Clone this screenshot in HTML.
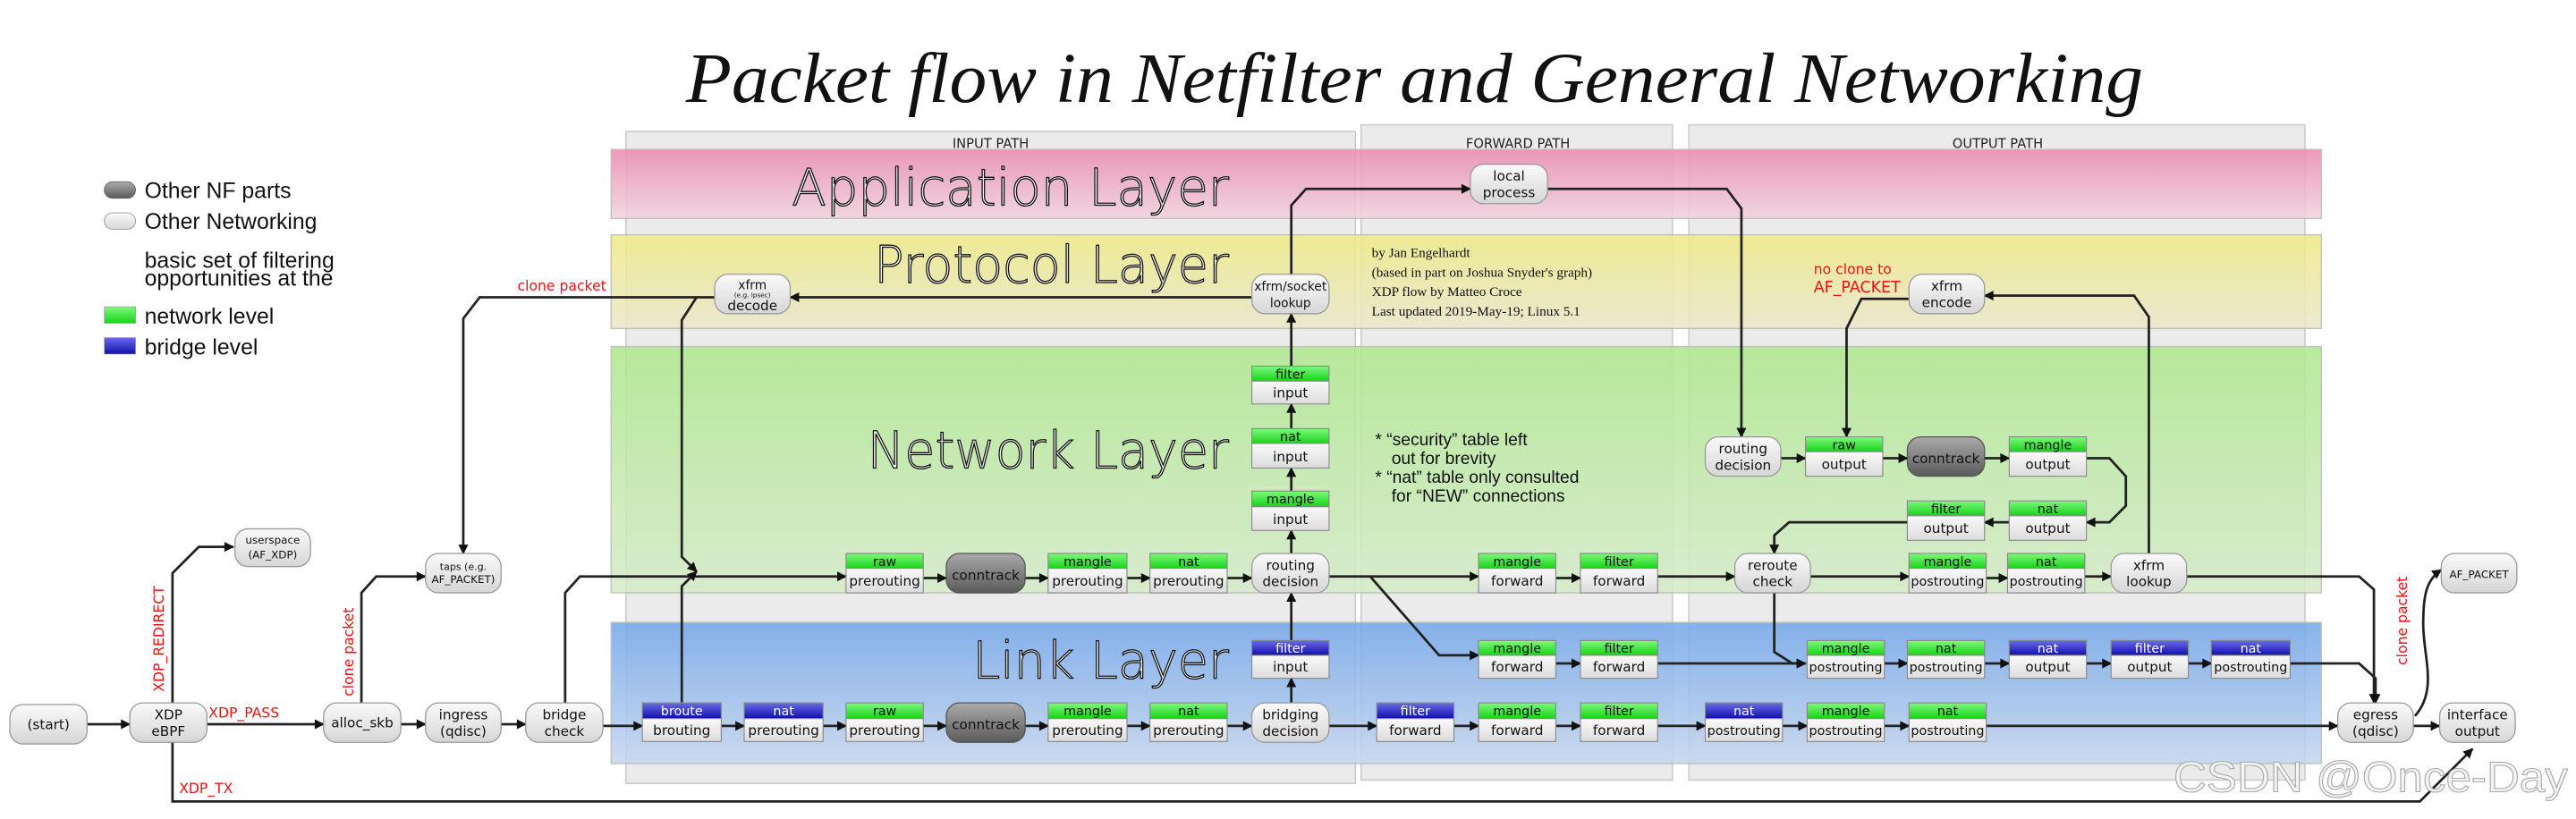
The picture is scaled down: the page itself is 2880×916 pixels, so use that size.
<!DOCTYPE html>
<html><head><meta charset="utf-8"><style>html,body{margin:0;padding:0;background:#fff}svg{display:block}</style></head><body>
<svg xmlns="http://www.w3.org/2000/svg" width="2880" height="916" viewBox="0 0 1568 498.7" preserveAspectRatio="none" font-family="DejaVu Sans, Liberation Sans, sans-serif">
<defs>
<marker id="a" viewBox="0 0 10 10" refX="9" refY="5" markerWidth="7" markerHeight="6" markerUnits="userSpaceOnUse" orient="auto"><path d="M0,0 L10,5 L0,10 Z" fill="#111"/></marker>
<linearGradient id="gApp" x1="0" y1="0" x2="0" y2="1"><stop offset="0" stop-color="#e98db0"/><stop offset="1" stop-color="#f3d3df"/></linearGradient>
<linearGradient id="gPro" x1="0" y1="0" x2="0" y2="1"><stop offset="0" stop-color="#efea88"/><stop offset="1" stop-color="#ebe8cc"/></linearGradient>
<linearGradient id="gNet" x1="0" y1="0" x2="0" y2="1"><stop offset="0" stop-color="#b0e890"/><stop offset="1" stop-color="#d6ebca"/></linearGradient>
<linearGradient id="gLnk" x1="0" y1="0" x2="0" y2="1"><stop offset="0" stop-color="#76a8ea"/><stop offset="1" stop-color="#c6d7ef"/></linearGradient>
<linearGradient id="gN" x1="0" y1="0" x2="0" y2="1"><stop offset="0" stop-color="#fafafa"/><stop offset="1" stop-color="#d6d6d6"/></linearGradient>
<linearGradient id="gD" x1="0" y1="0" x2="0" y2="1"><stop offset="0" stop-color="#aaa"/><stop offset="1" stop-color="#5a5a5a"/></linearGradient>
<linearGradient id="gG" x1="0" y1="0" x2="0" y2="1"><stop offset="0" stop-color="#7ef87e"/><stop offset="1" stop-color="#18d418"/></linearGradient>
<linearGradient id="gB" x1="0" y1="0" x2="0" y2="1"><stop offset="0" stop-color="#6a6af0"/><stop offset="1" stop-color="#1010a8"/></linearGradient>
<linearGradient id="gT" x1="0" y1="0" x2="0" y2="1"><stop offset="0" stop-color="#fafafa"/><stop offset="1" stop-color="#dcdcdc"/></linearGradient>
</defs>

<text x="861" y="62" text-anchor="middle" font-family="Liberation Serif, serif" font-style="italic" font-size="43" textLength="887" lengthAdjust="spacingAndGlyphs" fill="#111">Packet flow in Netfilter and General Networking</text>

<!-- columns -->
<g fill="#ebebeb" stroke="#c8c8c8" stroke-width="0.8">
<rect x="381" y="80" width="444" height="397"/>
<rect x="828.5" y="76" width="189.5" height="399"/>
<rect x="1028" y="76" width="375" height="399"/>
</g>
<g font-size="8" fill="#222" text-anchor="middle">
<text x="603" y="90">INPUT PATH</text>
<text x="924" y="90">FORWARD PATH</text>
<text x="1216" y="90">OUTPUT PATH</text>
</g>
<!-- bands -->
<g stroke="#bbb" stroke-width="0.8" opacity="0.88">
<rect x="372" y="91" width="1041" height="42" fill="url(#gApp)"/>
<rect x="372" y="143" width="1041" height="57" fill="url(#gPro)"/>
<rect x="372" y="211" width="1041" height="150" fill="url(#gNet)"/>
<rect x="372" y="379" width="1041" height="86" fill="url(#gLnk)"/>
</g>
<g font-size="31" fill="#f2f2f2" stroke="#111" stroke-width="0.7" font-weight="300" text-anchor="end">
<text x="748" y="125" textLength="266" lengthAdjust="spacingAndGlyphs">Application Layer</text>
<text x="748" y="172" textLength="216" lengthAdjust="spacingAndGlyphs">Protocol Layer</text>
<text x="748" y="285" textLength="220" lengthAdjust="spacingAndGlyphs">Network Layer</text>
<text x="748" y="413" textLength="156" lengthAdjust="spacingAndGlyphs">Link Layer</text>
</g>

<!-- legend -->
<rect x="63.5" y="110.7" width="19" height="10" rx="5" fill="url(#gD)" stroke="#666" stroke-width="0.5"/>
<rect x="63.5" y="129.6" width="19" height="10" rx="5" fill="url(#gN)" stroke="#999" stroke-width="0.5"/>
<rect x="63.5" y="186.8" width="19" height="10" fill="url(#gG)" stroke="#999" stroke-width="0.4"/>
<rect x="63.5" y="205.6" width="19" height="10" fill="url(#gB)" stroke="#999" stroke-width="0.4"/>
<g font-family="Liberation Sans, sans-serif" font-size="13.5" fill="#111">
<text x="88" y="120.5">Other NF parts</text>
<text x="88" y="139.5">Other Networking</text>
<text x="88" y="163">basic set of filtering</text>
<text x="88" y="174">opportunities at the</text>
<text x="88" y="197">network level</text>
<text x="88" y="216">bridge level</text>
</g>

<!-- credits -->
<g font-family="Liberation Serif, serif" font-size="8.3" fill="#111">
<text x="835" y="156.5">by Jan Engelhardt</text>
<text x="835" y="168.5">(based in part on Joshua Snyder's graph)</text>
<text x="835" y="180.3">XDP flow by Matteo Croce</text>
<text x="835" y="192.2">Last updated 2019-May-19; Linux 5.1</text>
</g>
<g font-size="10.5" fill="#111" font-family="Liberation Sans, sans-serif">
<text x="837" y="271">* “security” table left</text>
<text x="847" y="282.5">out for brevity</text>
<text x="837" y="294">* “nat” table only consulted</text>
<text x="847" y="305.5">for “NEW” connections</text>
</g>

<!-- red labels -->
<g fill="#ee1111" font-size="8.5">
<text x="315" y="177">clone packet</text>
<text x="1104" y="167">no clone to</text>
<text x="1104" y="178" font-size="9.5">AF_PACKET</text>
<text x="127" y="437">XDP_PASS</text>
<text x="109" y="483">XDP_TX</text>
<text transform="translate(99.5,389) rotate(-90)" text-anchor="middle">XDP_REDIRECT</text>
<text transform="translate(215,397) rotate(-90)" text-anchor="middle">clone packet</text>
<text transform="translate(1465,378) rotate(-90)" text-anchor="middle">clone packet</text>
</g>

<!-- connectors -->
<g fill="none" stroke="#222" stroke-width="1.5" marker-end="url(#a)">
<path d="M53,441 H79"/><path d="M126,441 H197"/>
<path d="M105,428 V349 L121,333 H142"/>
<path d="M105,452 V488 H1473 L1505,456"/>
<path d="M220,428 V361 L229,351 H259"/>
<path d="M244,441 H259"/><path d="M305,441 H320"/><path d="M367,442 H391"/>
<path d="M344,428 V361 L353,351 H515"/>
<path d="M415,428 V357 L424,348"/>
<path d="M424,181 L415,195 V339 L424,348"/>
<path d="M435,181 H292 L282,194 V337"/>
<path d="M762,181 H481"/>
<path d="M439,442 H453"/><path d="M501,442 H515"/><path d="M562,442 H576"/><path d="M624,442 H638"/><path d="M686,442 H700"/><path d="M747,442 H762"/>
<path d="M809,442 H838"/><path d="M885,442 H900"/><path d="M947,442 H962"/><path d="M1009,442 H1038"/><path d="M1085,442 H1100"/><path d="M1147,442 H1162"/><path d="M1209,442 H1423"/><path d="M1469,442 H1485"/>
<path d="M562,352 H576"/><path d="M624,352 H638"/><path d="M686,352 H700"/><path d="M747,352 H762"/>
<path d="M809,351 H900"/><path d="M947,352 H962"/><path d="M1009,351 H1056"/><path d="M1102,351 H1162"/><path d="M1209,352 H1222"/><path d="M1269,351 H1285"/>
<path d="M834,351 L876,399 H900"/>
<path d="M947,404 H962"/><path d="M1009,404 H1099"/><path d="M1147,404 H1161"/><path d="M1208,404 H1223"/><path d="M1270,404 H1285"/><path d="M1332,404 H1346"/>
<path d="M1080,361 V397 L1091,404 H1099"/>
<path d="M1394,404 H1436 L1446,413 V428"/>
<path d="M1331,351 H1436 L1445,359 V428"/>
<path d="M786,428 V413"/><path d="M786,390 V361"/><path d="M786,337 V323"/><path d="M786,299 V285"/><path d="M786,261 V246"/><path d="M786,223 V191"/>
<path d="M786,167 V125 L795,115 H895"/>
<path d="M942,115 H1051 L1060,127 V266"/>
<path d="M1084,279 H1099"/><path d="M1146,279 H1161"/><path d="M1208,279 H1223"/>
<path d="M1270,279 H1284 L1294,290 V308 L1284,318 H1270"/>
<path d="M1223,318 H1208"/>
<path d="M1161,318 H1089 L1080,326 V337"/>
<path d="M1308,337 V193 L1299,180 H1208"/>
<path d="M1162,182 H1133 L1124,200 V266"/>
<path d="M1470,436 C1484,420 1475,400 1475,380 C1475,362 1477,353 1486,347"/>
</g>

<!-- nodes -->
<g stroke="#999" stroke-width="0.7" fill="url(#gN)">
<rect x="6" y="429" width="47" height="24" rx="8"/>
<rect x="79" y="428" width="47" height="24" rx="8"/>
<rect x="197" y="428" width="47" height="24" rx="8"/>
<rect x="259" y="428" width="46" height="24" rx="8"/>
<rect x="320" y="428" width="47" height="24" rx="8"/>
<rect x="762" y="428" width="47" height="24" rx="8"/>
<rect x="1423" y="428" width="46" height="24" rx="8"/>
<rect x="1485" y="428" width="46" height="24" rx="8"/>
<rect x="259" y="337" width="46" height="24" rx="8"/>
<rect x="143" y="322" width="46" height="23" rx="8"/>
<rect x="1486" y="337" width="46" height="24" rx="8"/>
<rect x="762" y="337" width="47" height="24" rx="8"/>
<rect x="1056" y="337" width="46" height="24" rx="8"/>
<rect x="1285" y="337" width="46" height="24" rx="8"/>
<rect x="1038" y="266" width="46" height="24" rx="8"/>
<rect x="762" y="167" width="47" height="24" rx="8"/>
<rect x="435" y="167" width="46" height="24" rx="8"/>
<rect x="895" y="100" width="47" height="24" rx="8"/>
<rect x="1162" y="167" width="46" height="24" rx="8"/>
</g>
<g stroke="#555" stroke-width="0.7" fill="url(#gD)">
<rect x="576" y="428" width="48" height="24" rx="8"/>
<rect x="576" y="337" width="48" height="24" rx="8"/>
<rect x="1161" y="266" width="47" height="24" rx="8"/>
</g>
<g font-size="8.3" fill="#111" text-anchor="middle">
<text x="29.5" y="444">(start)</text>
<text x="102.5" y="438">XDP</text><text x="102.5" y="448">eBPF</text>
<text x="220.5" y="443">alloc_skb</text>
<text x="282" y="438">ingress</text><text x="282" y="448">(qdisc)</text>
<text x="343.5" y="438">bridge</text><text x="343.5" y="448">check</text>
<text x="785.5" y="438">bridging</text><text x="785.5" y="448">decision</text>
<text x="1446" y="438">egress</text><text x="1446" y="448">(qdisc)</text>
<text x="1508" y="438">interface</text><text x="1508" y="448">output</text>
<text x="282" y="347" font-size="6">taps (e.g.</text><text x="282" y="355" font-size="6.5">AF_PACKET)</text>
<text x="166" y="331" font-size="6.5">userspace</text><text x="166" y="340" font-size="6.5">(AF_XDP)</text>
<text x="1509" y="352" font-size="6.5">AF_PACKET</text>
<text x="785.5" y="347">routing</text><text x="785.5" y="357">decision</text>
<text x="1079" y="347">reroute</text><text x="1079" y="357">check</text>
<text x="1308" y="347">xfrm</text><text x="1308" y="357">lookup</text>
<text x="1061" y="276">routing</text><text x="1061" y="286">decision</text>
<text x="785.5" y="177" font-size="7.5">xfrm/socket</text><text x="785.5" y="187" font-size="7.5">lookup</text>
<text x="458" y="176" font-size="7.5">xfrm</text><text x="458" y="181" font-size="4">(e.g. ipsec)</text><text x="458" y="189">decode</text>
<text x="918.5" y="110">local</text><text x="918.5" y="120">process</text>
<text x="1185" y="177">xfrm</text><text x="1185" y="187">encode</text>
<text x="600" y="444">conntrack</text>
<text x="600" y="353">conntrack</text>
<text x="1184.5" y="282">conntrack</text>
</g>

<!-- tables -->
<g stroke="#888" stroke-width="0.6">
<!-- bodies -->
<g fill="url(#gT)">
<rect x="391" y="437.5" width="48" height="14"/><rect x="453" y="437.5" width="48" height="14"/><rect x="515" y="437.5" width="47" height="14"/><rect x="638" y="437.5" width="48" height="14"/><rect x="700" y="437.5" width="47" height="14"/>
<rect x="838" y="437.5" width="47" height="14"/><rect x="900" y="437.5" width="47" height="14"/><rect x="962" y="437.5" width="47" height="14"/><rect x="1038" y="437.5" width="47" height="14"/><rect x="1100" y="437.5" width="47" height="14"/><rect x="1162" y="437.5" width="47" height="14"/>
<rect x="515" y="346" width="47" height="15"/><rect x="638" y="346" width="48" height="15"/><rect x="700" y="346" width="47" height="15"/><rect x="900" y="346" width="47" height="15"/><rect x="962" y="346" width="47" height="15"/><rect x="1162" y="346" width="47" height="15"/><rect x="1222" y="346" width="47" height="15"/>
<rect x="900" y="399" width="47" height="14"/><rect x="962" y="399" width="47" height="14"/><rect x="1100" y="399" width="47" height="14"/><rect x="1161" y="399" width="47" height="14"/><rect x="1223" y="399" width="47" height="14"/><rect x="1285" y="399" width="47" height="14"/><rect x="1346" y="399" width="48" height="14"/>
<rect x="762" y="399" width="47" height="14"/><rect x="762" y="232" width="47" height="14"/><rect x="762" y="270" width="47" height="15"/><rect x="762" y="308.5" width="47" height="14.5"/>
<rect x="1099" y="275" width="47" height="15"/><rect x="1223" y="275" width="47" height="15"/><rect x="1161" y="314" width="47" height="15"/><rect x="1223" y="314" width="47" height="15"/>
</g>
<g fill="url(#gG)">
<rect x="515" y="428" width="47" height="9.5"/><rect x="638" y="428" width="48" height="9.5"/><rect x="700" y="428" width="47" height="9.5"/><rect x="900" y="428" width="47" height="9.5"/><rect x="962" y="428" width="47" height="9.5"/><rect x="1100" y="428" width="47" height="9.5"/><rect x="1162" y="428" width="47" height="9.5"/>
<rect x="515" y="337" width="47" height="9"/><rect x="638" y="337" width="48" height="9"/><rect x="700" y="337" width="47" height="9"/><rect x="900" y="337" width="47" height="9"/><rect x="962" y="337" width="47" height="9"/><rect x="1162" y="337" width="47" height="9"/><rect x="1222" y="337" width="47" height="9"/>
<rect x="900" y="390" width="47" height="9"/><rect x="962" y="390" width="47" height="9"/><rect x="1100" y="390" width="47" height="9"/><rect x="1161" y="390" width="47" height="9"/>
<rect x="762" y="223" width="47" height="9"/><rect x="762" y="261" width="47" height="9"/><rect x="762" y="299" width="47" height="9.5"/>
<rect x="1099" y="266" width="47" height="9"/><rect x="1223" y="266" width="47" height="9"/><rect x="1161" y="305" width="47" height="9"/><rect x="1223" y="305" width="47" height="9"/>
</g>
<g fill="url(#gB)">
<rect x="391" y="428" width="48" height="9.5"/><rect x="453" y="428" width="48" height="9.5"/><rect x="838" y="428" width="47" height="9.5"/><rect x="1038" y="428" width="47" height="9.5"/>
<rect x="1223" y="390" width="47" height="9"/><rect x="1285" y="390" width="47" height="9"/><rect x="1346" y="390" width="48" height="9"/><rect x="762" y="390" width="47" height="9"/>
</g>
</g>
<g font-size="7.8" text-anchor="middle" fill="#111">
<!-- headers green -->
<text x="538.5" y="435.5">raw</text><text x="662" y="435.5">mangle</text><text x="723.5" y="435.5">nat</text><text x="923.5" y="435.5">mangle</text><text x="985.5" y="435.5">filter</text><text x="1123.5" y="435.5">mangle</text><text x="1185.5" y="435.5">nat</text>
<text x="538.5" y="344.5">raw</text><text x="662" y="344.5">mangle</text><text x="723.5" y="344.5">nat</text><text x="923.5" y="344.5">mangle</text><text x="985.5" y="344.5">filter</text><text x="1185.5" y="344.5">mangle</text><text x="1245.5" y="344.5">nat</text>
<text x="923.5" y="397.5">mangle</text><text x="985.5" y="397.5">filter</text><text x="1123.5" y="397.5">mangle</text><text x="1184.5" y="397.5">nat</text>
<text x="785.5" y="230.5">filter</text><text x="785.5" y="268.5">nat</text><text x="785.5" y="306.5">mangle</text>
<text x="1122.5" y="273.5">raw</text><text x="1246.5" y="273.5">mangle</text><text x="1184.5" y="312.5">filter</text><text x="1246.5" y="312.5">nat</text>
</g>
<g font-size="7.8" text-anchor="middle" fill="#fff">
<text x="415" y="435.5">broute</text><text x="477" y="435.5">nat</text><text x="861.5" y="435.5">filter</text><text x="1061.5" y="435.5">nat</text>
<text x="1246.5" y="397.5">nat</text><text x="1308.5" y="397.5">filter</text><text x="1370" y="397.5">nat</text><text x="785.5" y="397.5">filter</text>
</g>
<g font-size="8.3" text-anchor="middle" fill="#111">
<text x="415" y="447.5">brouting</text><text x="477" y="447.5">prerouting</text><text x="538.5" y="447.5">prerouting</text><text x="662" y="447.5">prerouting</text><text x="723.5" y="447.5">prerouting</text>
<text x="861.5" y="447.5">forward</text><text x="923.5" y="447.5">forward</text><text x="985.5" y="447.5">forward</text><text x="1061.5" y="447.5" font-size="7.8">postrouting</text><text x="1123.5" y="447.5" font-size="7.8">postrouting</text><text x="1185.5" y="447.5" font-size="7.8">postrouting</text>
<text x="538.5" y="356.5">prerouting</text><text x="662" y="356.5">prerouting</text><text x="723.5" y="356.5">prerouting</text><text x="923.5" y="356.5">forward</text><text x="985.5" y="356.5">forward</text><text x="1185.5" y="356.5" font-size="7.8">postrouting</text><text x="1245.5" y="356.5" font-size="7.8">postrouting</text>
<text x="923.5" y="409">forward</text><text x="985.5" y="409">forward</text><text x="1123.5" y="409" font-size="7.8">postrouting</text><text x="1184.5" y="409" font-size="7.8">postrouting</text><text x="1246.5" y="409">output</text><text x="1308.5" y="409">output</text><text x="1370" y="409" font-size="7.8">postrouting</text>
<text x="785.5" y="409">input</text><text x="785.5" y="242">input</text><text x="785.5" y="281">input</text><text x="785.5" y="319">input</text>
<text x="1122.5" y="285.5">output</text><text x="1246.5" y="285.5">output</text><text x="1184.5" y="324.5">output</text><text x="1246.5" y="324.5">output</text>
</g>

<text x="1323" y="482" font-family="Liberation Sans, sans-serif" font-size="26" fill="#f4f4f4" stroke="#aaa" stroke-width="0.6" textLength="240" lengthAdjust="spacingAndGlyphs">CSDN @Once-Day</text>
</svg>
</body></html>
